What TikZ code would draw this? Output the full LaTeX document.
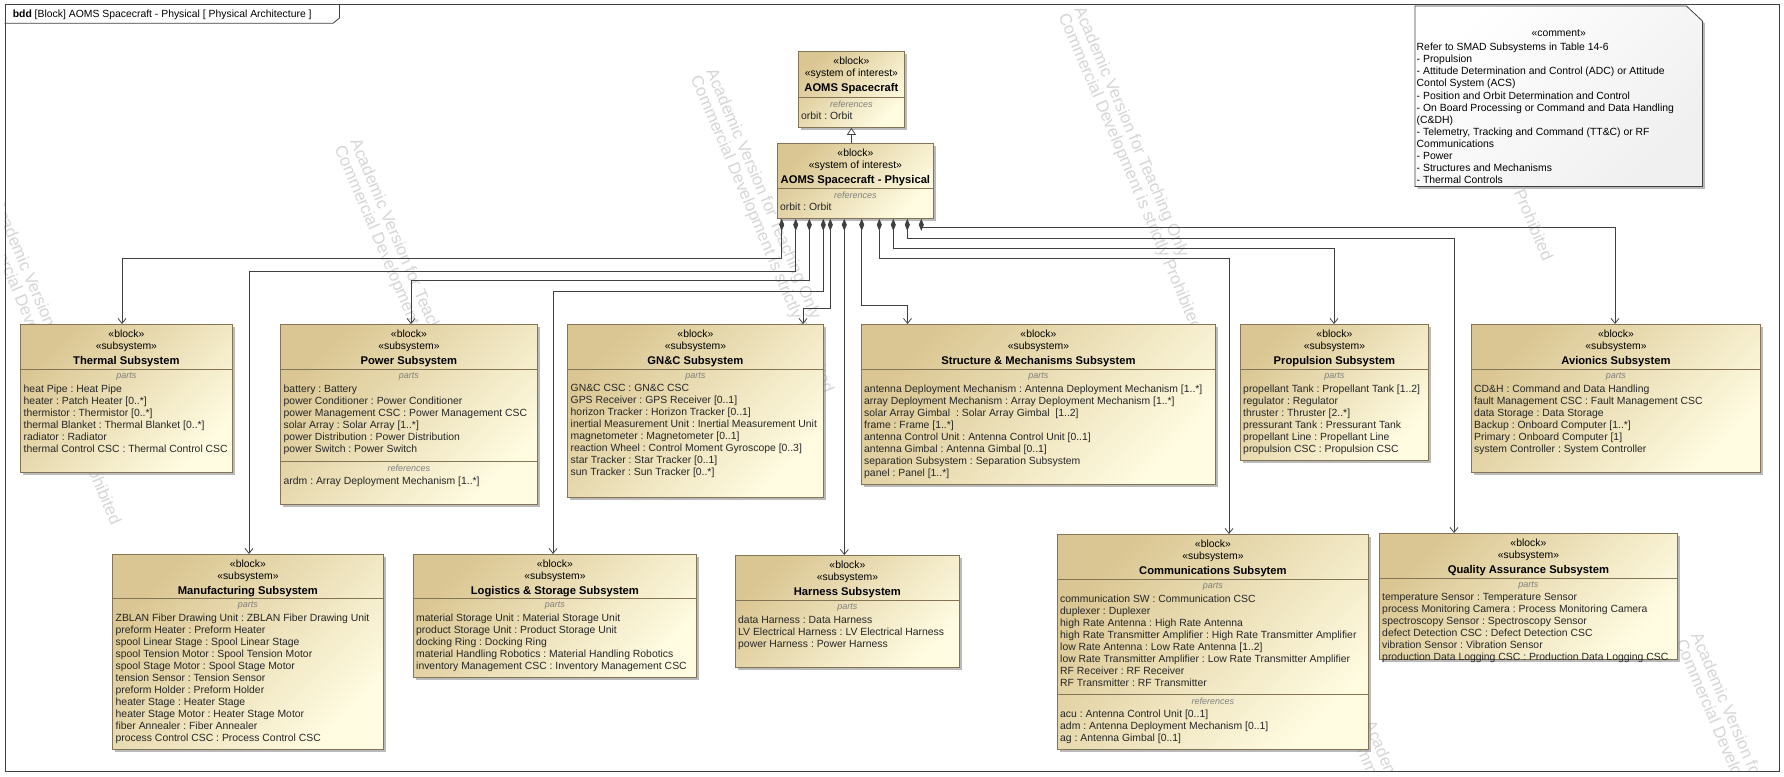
\documentclass[tikz,border=0pt]{standalone}
\usepackage{fontspec}
\setmainfont{Liberation Sans}
\frenchspacing
\usetikzlibrary{arrows.meta,positioning,shadows}
\definecolor{bktop}{RGB}{218,198,146}
\definecolor{bkbot}{RGB}{255,252,226}
\definecolor{bkline}{RGB}{132,116,86}
\definecolor{wire}{RGB}{64,64,64}
\newcommand{\blkname}[1]{{\fontsize{11.2}{12.5}\selectfont\bfseries #1}}
\tikzset{
  blk/.style={draw=bkline, line width=0.8pt, top color=bktop, bottom color=bkbot, shading angle=45,
    anchor=north west, inner sep=0pt,
    drop shadow={shadow xshift=2.5pt, shadow yshift=-2.5pt, fill=black!45, opacity=0.6}},
  notebox/.style={draw=wire, line width=0.8pt, top color=white, bottom color=black!6, shading angle=45,
    drop shadow={shadow xshift=2.5pt, shadow yshift=-2.5pt, fill=black!45, opacity=0.6}},
  hdr/.style={align=center, inner sep=0pt, anchor=north, font=\fontsize{10.4}{12.5}\selectfont},
  cmp/.style={inner sep=0pt, text=black!50, font=\fontsize{9}{10}\selectfont\itshape},
  lst/.style={align=left, inner sep=0pt, anchor=north west, text=black!85, font=\fontsize{10.4}{12}\selectfont},
  sep/.style={draw=bkline, line width=0.7pt},
  comp/.style={draw=wire, line width=0.75pt, {Diamond[length=12pt,width=5pt,fill=wire]}-{Straight Barb[length=5pt,width=8pt]}},
  gen/.style={draw=wire, line width=0.75pt, -{Triangle[open,length=7pt,width=9pt,fill=white]}},
  wm/.style={rotate=-67, anchor=west, inner sep=0pt, text=black!16, font=\fontsize{16.8}{18}\selectfont}
}
\begin{document}
\begin{tikzpicture}[x=1pt,y=-1pt]
\useasboundingbox (0,0) rectangle (1784,776);
\fill[white] (0,0) rectangle (1784,776);

% watermark
\begin{scope}
\clip (4.5,4.3) rectangle (1779,771);
\foreach \x/\y [count=\i] in {354/140, 710/70, 1078/8, -3/202, 1368/722, 1695/634}{
  \node[wm] (wma\i) at (\x,\y) {Academic Version for Teaching Only};
  \node[wm] (wmb\i) at (\x-15.6,\y+6.6) {Commercial Development is strictly Prohibited};
}
\node[wm] (wmb7) at (1519,190) {Prohibited};
\end{scope}

% diagram frame
\node[draw=wire, line width=0.8pt, anchor=north west, inner sep=0pt, minimum width=1774.5pt, minimum height=766.7pt] (frame) at (4.5,4.3) {};
\draw[wire, line width=0.8pt] (frame.north west |- 0,23.3) -- (333,23.3) -- (339.5,18) -- (frame.north -| 339.5,0);
\node[anchor=base west, inner sep=0pt, font=\fontsize{10.4}{12}\selectfont] (frametitle) at (12.6,18) {\textbf{bdd} [Block] AOMS Spacecraft - Physical [ Physical Architecture ]};

% comment
\node[anchor=north west, inner sep=0pt, minimum width=287pt, minimum height=180pt] (note) at (1415,6) {};
\draw[notebox] (note.north west) -- ([xshift=-16pt]note.north east) -- ([yshift=-15pt]note.north east) -- (note.south east) -- (note.south west) -- cycle;
\node[inner sep=0pt, font=\fontsize{10.4}{12}\selectfont] (note-s) at ([yshift=-26.7pt]note.north) {«comment»};
\node[lst, text=black, font=\fontsize{10.4}{12.05}\selectfont, below right=37.1pt and 1.5pt of note.north west] (note-t) {Refer to SMAD Subsystems in Table 14-6\\
- Propulsion\\
- Attitude Determination and Control (ADC) or Attitude\\
Contol System (ACS)\\
- Position and Orbit Determination and Control\\
- On Board Processing or Command and Data Handling\\
(C\&DH)\\
- Telemetry, Tracking and Command (TT\&C) or RF\\
Communications\\
- Power\\
- Structures and Mechanisms\\
- Thermal Controls};

% system of interest
\node[blk, minimum width=106pt, minimum height=76pt] (aoms) at (798,51) {};
\node[hdr, below=5.3pt of aoms.north] (aoms-h) {«block»\\«system of interest»\\[2.5pt]\blkname{AOMS Spacecraft}};
\draw[sep] ([yshift=-46pt]aoms.north west) -- ([yshift=-46pt]aoms.north east);
\node[cmp] (aoms-c) at ([yshift=-53pt]aoms.north) {references};
\node[lst, below right=60.7pt and 3pt of aoms.north west] (aoms-r) {orbit : Orbit};

\node[blk, minimum width=156pt, minimum height=75pt] (phys) at (777,143) {};
\node[hdr, below=5.3pt of phys.north] (phys-h) {«block»\\«system of interest»\\[2.5pt]\blkname{AOMS Spacecraft - Physical}};
\draw[sep] ([yshift=-45pt]phys.north west) -- ([yshift=-45pt]phys.north east);
\node[cmp] (phys-c) at ([yshift=-52pt]phys.north) {references};
\node[lst, below right=59.4pt and 3pt of phys.north west] (phys-r) {orbit : Orbit};

% subsystems, upper row
\node[blk, minimum width=212pt, minimum height=148pt] (thermal) at (20,324) {};
\node[hdr, below=5.3pt of thermal.north] (thermal-h) {«block»\\«subsystem»\\[2.5pt]\blkname{Thermal Subsystem}};
\draw[sep] ([yshift=-45pt]thermal.north west) -- ([yshift=-45pt]thermal.north east);
\node[cmp] (thermal-c) at ([yshift=-52.5pt]thermal.north) {parts};
\node[lst, below right=60.4pt and 3.5pt of thermal.north west] (thermal-p) {heat Pipe : Heat Pipe\\
heater : Patch Heater [0..*]\\
thermistor : Thermistor [0..*]\\
thermal Blanket : Thermal Blanket [0..*]\\
radiator : Radiator\\
thermal Control CSC : Thermal Control CSC};

\node[blk, minimum width=257pt, minimum height=180pt] (power) at (280,324) {};
\node[hdr, below=5.3pt of power.north] (power-h) {«block»\\«subsystem»\\[2.5pt]\blkname{Power Subsystem}};
\draw[sep] ([yshift=-45pt]power.north west) -- ([yshift=-45pt]power.north east);
\node[cmp] (power-c) at ([yshift=-52.5pt]power.north) {parts};
\node[lst, below right=60.4pt and 3.5pt of power.north west] (power-p) {battery : Battery\\
power Conditioner : Power Conditioner\\
power Management CSC : Power Management CSC\\
solar Array : Solar Array [1..*]\\
power Distribution : Power Distribution\\
power Switch : Power Switch};
\draw[sep] ([yshift=-137pt]power.north west) -- ([yshift=-137pt]power.north east);
\node[cmp] (power-rc) at ([yshift=-144.5pt]power.north) {references};
\node[lst, below right=152.4pt and 3.5pt of power.north west] (power-r) {ardm : Array Deployment Mechanism [1..*]};

\node[blk, minimum width=256pt, minimum height=173pt] (gnc) at (567,324) {};
\node[hdr, below=5.3pt of gnc.north] (gnc-h) {«block»\\«subsystem»\\[2.5pt]\blkname{GN\&C Subsystem}};
\draw[sep] ([yshift=-45pt]gnc.north west) -- ([yshift=-45pt]gnc.north east);
\node[cmp] (gnc-c) at ([yshift=-52.5pt]gnc.north) {parts};
\node[lst, below right=60.4pt and 3.5pt of gnc.north west] (gnc-p) {GN\&C CSC : GN\&C CSC\\
GPS Receiver : GPS Receiver [0..1]\\
horizon Tracker : Horizon Tracker [0..1]\\
inertial Measurement Unit : Inertial Measurement Unit\\
magnetometer : Magnetometer [0..1]\\
reaction Wheel : Control Moment Gyroscope [0..3]\\
star Tracker : Star Tracker [0..1]\\
sun Tracker : Sun Tracker [0..*]};

\node[blk, minimum width=354pt, minimum height=160pt] (struct) at (861,324) {};
\node[hdr, below=5.3pt of struct.north] (struct-h) {«block»\\«subsystem»\\[2.5pt]\blkname{Structure \& Mechanisms Subsystem}};
\draw[sep] ([yshift=-45pt]struct.north west) -- ([yshift=-45pt]struct.north east);
\node[cmp] (struct-c) at ([yshift=-52.5pt]struct.north) {parts};
\node[lst, below right=60.4pt and 3pt of struct.north west] (struct-p) {antenna Deployment Mechanism : Antenna Deployment Mechanism [1..*]\\
array Deployment Mechanism : Array Deployment Mechanism [1..*]\\
solar Array Gimbal\ \ : Solar Array Gimbal\ \ [1..2]\\
frame : Frame [1..*]\\
antenna Control Unit : Antenna Control Unit [0..1]\\
antenna Gimbal : Antenna Gimbal [0..1]\\
separation Subsystem : Separation Subsystem\\
panel : Panel [1..*]};

\node[blk, minimum width=188pt, minimum height=136pt] (prop) at (1240,324) {};
\node[hdr, below=5.3pt of prop.north] (prop-h) {«block»\\«subsystem»\\[2.5pt]\blkname{Propulsion Subsystem}};
\draw[sep] ([yshift=-45pt]prop.north west) -- ([yshift=-45pt]prop.north east);
\node[cmp] (prop-c) at ([yshift=-52.5pt]prop.north) {parts};
\node[lst, below right=60.4pt and 3pt of prop.north west] (prop-p) {propellant Tank : Propellant Tank [1..2]\\
regulator : Regulator\\
thruster : Thruster [2..*]\\
pressurant Tank : Pressurant Tank\\
propellant Line : Propellant Line\\
propulsion CSC : Propulsion CSC};

\node[blk, minimum width=289pt, minimum height=148pt] (avion) at (1471,324) {};
\node[hdr, below=5.3pt of avion.north] (avion-h) {«block»\\«subsystem»\\[2.5pt]\blkname{Avionics Subsystem}};
\draw[sep] ([yshift=-45pt]avion.north west) -- ([yshift=-45pt]avion.north east);
\node[cmp] (avion-c) at ([yshift=-52.5pt]avion.north) {parts};
\node[lst, below right=60.4pt and 3pt of avion.north west] (avion-p) {CD\&H : Command and Data Handling\\
fault Management CSC : Fault Management CSC\\
data Storage : Data Storage\\
Backup : Onboard Computer [1..*]\\
Primary : Onboard Computer [1]\\
system Controller : System Controller};

% subsystems, lower row
\node[blk, minimum width=271pt, minimum height=195pt] (manuf) at (112,554) {};
\node[hdr, below=5.3pt of manuf.north] (manuf-h) {«block»\\«subsystem»\\[2.5pt]\blkname{Manufacturing Subsystem}};
\draw[sep] ([yshift=-44.5pt]manuf.north west) -- ([yshift=-44.5pt]manuf.north east);
\node[cmp] (manuf-c) at ([yshift=-52pt]manuf.north) {parts};
\node[lst, below right=60pt and 3.5pt of manuf.north west] (manuf-p) {ZBLAN Fiber Drawing Unit : ZBLAN Fiber Drawing Unit\\
preform Heater : Preform Heater\\
spool Linear Stage : Spool Linear Stage\\
spool Tension Motor : Spool Tension Motor\\
spool Stage Motor : Spool Stage Motor\\
tension Sensor : Tension Sensor\\
preform Holder : Preform Holder\\
heater Stage : Heater Stage\\
heater Stage Motor : Heater Stage Motor\\
fiber Annealer : Fiber Annealer\\
process Control CSC : Process Control CSC};

\node[blk, minimum width=283pt, minimum height=123pt] (logist) at (413,554) {};
\node[hdr, below=5.3pt of logist.north] (logist-h) {«block»\\«subsystem»\\[2.5pt]\blkname{Logistics \& Storage Subsystem}};
\draw[sep] ([yshift=-44.5pt]logist.north west) -- ([yshift=-44.5pt]logist.north east);
\node[cmp] (logist-c) at ([yshift=-52pt]logist.north) {parts};
\node[lst, below right=60pt and 3pt of logist.north west] (logist-p) {material Storage Unit : Material Storage Unit\\
product Storage Unit : Product Storage Unit\\
docking Ring : Docking Ring\\
material Handling Robotics : Material Handling Robotics\\
inventory Management CSC : Inventory Management CSC};

\node[blk, minimum width=224pt, minimum height=112pt] (harness) at (735,555) {};
\node[hdr, below=5.3pt of harness.north] (harness-h) {«block»\\«subsystem»\\[2.5pt]\blkname{Harness Subsystem}};
\draw[sep] ([yshift=-45.5pt]harness.north west) -- ([yshift=-45.5pt]harness.north east);
\node[cmp] (harness-c) at ([yshift=-53pt]harness.north) {parts};
\node[lst, below right=61pt and 3pt of harness.north west] (harness-p) {data Harness : Data Harness\\
LV Electrical Harness : LV Electrical Harness\\
power Harness : Power Harness};

\node[blk, minimum width=311pt, minimum height=215pt] (comms) at (1057,534) {};
\node[hdr, below=5.3pt of comms.north] (comms-h) {«block»\\«subsystem»\\[2.5pt]\blkname{Communications Subsytem}};
\draw[sep] ([yshift=-45pt]comms.north west) -- ([yshift=-45pt]comms.north east);
\node[cmp] (comms-c) at ([yshift=-52.5pt]comms.north) {parts};
\node[lst, below right=60.4pt and 3pt of comms.north west] (comms-p) {communication SW : Communication CSC\\
duplexer : Duplexer\\
high Rate Antenna : High Rate Antenna\\
high Rate Transmitter Amplifier : High Rate Transmitter Amplifier\\
low Rate Antenna : Low Rate Antenna [1..2]\\
low Rate Transmitter Amplifier : Low Rate Transmitter Amplifier\\
RF Receiver : RF Receiver\\
RF Transmitter : RF Transmitter};
\draw[sep] ([yshift=-160pt]comms.north west) -- ([yshift=-160pt]comms.north east);
\node[cmp] (comms-rc) at ([yshift=-167.5pt]comms.north) {references};
\node[lst, below right=175.4pt and 3pt of comms.north west] (comms-r) {acu : Antenna Control Unit [0..1]\\
adm : Antenna Deployment Mechanism [0..1]\\
ag : Antenna Gimbal [0..1]};

\node[blk, minimum width=298pt, minimum height=126pt] (qa) at (1379,533) {};
\node[hdr, below=5.3pt of qa.north] (qa-h) {«block»\\«subsystem»\\[2.5pt]\blkname{Quality Assurance Subsystem}};
\draw[sep] ([yshift=-45pt]qa.north west) -- ([yshift=-45pt]qa.north east);
\node[cmp] (qa-c) at ([yshift=-52.5pt]qa.north) {parts};
\node[lst, below right=60.4pt and 3pt of qa.north west] (qa-p) {temperature Sensor : Temperature Sensor\\
process Monitoring Camera : Process Monitoring Camera\\
spectroscopy Sensor : Spectroscopy Sensor\\
defect Detection CSC : Defect Detection CSC\\
vibration Sensor : Vibration Sensor\\
production Data Logging CSC : Production Data Logging CSC};

% generalization and part associations
\draw[gen] (phys.north -| aoms.south) -- (aoms.south);
\foreach \d [count=\i] in {4.7,18.7,32.3,46.3,53.3,67.3,84.7,102.3,116.3,130.3,144.3}
  \coordinate (pd\i) at ([xshift=\d pt]phys.south west);
\draw[comp] (pd1) |- (122,258) -- (thermal.north -| 122,0);
\draw[comp] (pd2) |- (249,271) -- (manuf.north -| 249,0);
\draw[comp] (pd3) |- (411,280) -- (power.north -| 411,0);
\draw[comp] (pd4) |- (553,291) -- (logist.north -| 553,0);
\draw[comp] (pd5) |- (803,308) -- (gnc.north -| 803,0);
\draw[comp] (pd6) -- (harness.north -| pd6);
\draw[comp] (pd7) |- (907.5,305) -- (struct.north -| 907.5,0);
\draw[comp] (pd8) |- (1229,258) -- (comms.north -| 1229,0);
\draw[comp] (pd9) |- (1334,248) -- (prop.north -| 1334,0);
\draw[comp] (pd10) |- (1454,238) -- (qa.north -| 1454,0);
\draw[comp] (pd11) |- (1615,227) -- (avion.north -| 1615,0);
\end{tikzpicture}
\end{document}
